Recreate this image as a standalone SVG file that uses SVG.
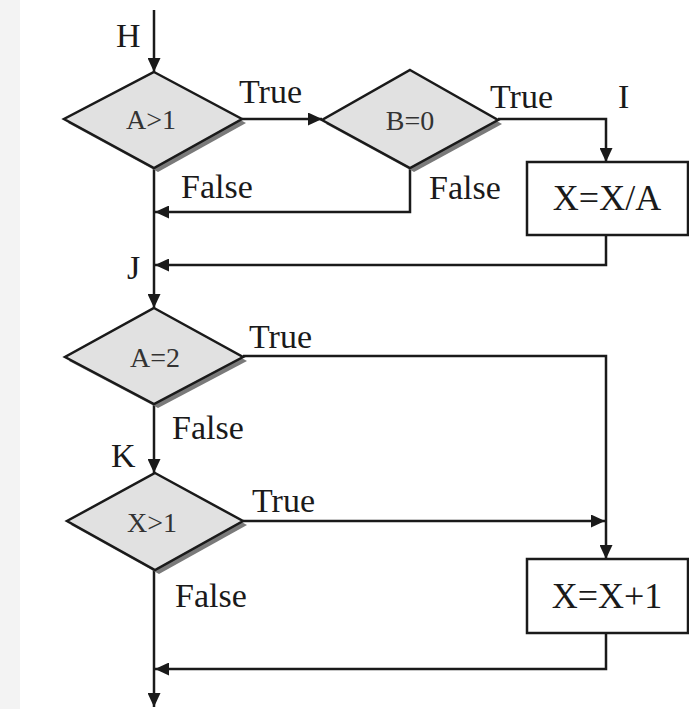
<svg xmlns="http://www.w3.org/2000/svg" width="689" height="709" viewBox="0 0 689 709">
<defs>
<marker id="arr" markerUnits="userSpaceOnUse" markerWidth="14" markerHeight="13" refX="14" refY="6.5" orient="auto">
<path d="M0,0 L14,6.5 L0,13 z" fill="#1a1a1a"/>
</marker>
</defs>
<style>
.bg{fill:#ffffff}
.strip{fill:#f3f3f3}
.dia{fill:#e1e1e1;stroke:#1a1a1a;stroke-width:2.5;stroke-linejoin:miter}
.shadow{fill:#7a7a7a}
.box{fill:#ffffff;stroke:#1a1a1a;stroke-width:2.5}
.line{fill:none;stroke:#1a1a1a;stroke-width:2.5}
.lbl{font-family:"Liberation Serif","Times New Roman",serif;font-size:34px;fill:#1a1a1a}
.dtxt{font-family:"Liberation Serif","Times New Roman",serif;font-size:28px;fill:#333333;text-anchor:middle}
.btxt{font-family:"Liberation Serif","Times New Roman",serif;font-size:36px;fill:#1a1a1a;text-anchor:middle}
</style>
<rect class="bg" x="0" y="0" width="689" height="709"/>
<rect class="strip" x="0" y="0" width="20" height="709"/>

<g id="connectors">
<line class="line" x1="154" y1="10" x2="154" y2="72" marker-end="url(#arr)"/>
<line class="line" x1="242" y1="119" x2="322" y2="119" marker-end="url(#arr)"/>
<polyline class="line" points="498,119 606,119 606,162" marker-end="url(#arr)"/>
<polyline class="line" points="410,168 410,212 155,212" marker-end="url(#arr)"/>
<polyline class="line" points="606,235 606,265 155,265" marker-end="url(#arr)"/>
<line class="line" x1="154" y1="168" x2="154" y2="308" marker-end="url(#arr)"/>
<polyline class="line" points="243,356 606,356 606,559" marker-end="url(#arr)"/>
<line class="line" x1="154" y1="404" x2="154" y2="473" marker-end="url(#arr)"/>
<line class="line" x1="243" y1="521" x2="605" y2="521" marker-end="url(#arr)"/>
<polyline class="line" points="606,633 606,669 155,669" marker-end="url(#arr)"/>
<line class="line" x1="154" y1="570" x2="154" y2="707" marker-end="url(#arr)"/>
</g>

<g id="labels">
<text class="lbl" x="116" y="47">H</text>
<text class="lbl" x="239" y="103">True</text>
<text class="lbl" x="181" y="198">False</text>
<text class="lbl" x="490" y="108">True</text>
<text class="lbl" x="618" y="108">I</text>
<text class="lbl" x="429" y="199">False</text>
<text class="lbl" x="127" y="279">J</text>
<text class="lbl" x="249" y="348">True</text>
<text class="lbl" x="172" y="439">False</text>
<text class="lbl" x="111" y="467">K</text>
<text class="lbl" x="252" y="512">True</text>
<text class="lbl" x="175" y="607">False</text>
</g>

<g id="node-a1">
<polygon class="shadow" points="158,76 246,123 158,172 68,123"/>
<polygon class="dia" points="154,72 242,119 154,168 64,119"/>
<text class="dtxt" x="151" y="129">A&gt;1</text>
</g>

<g id="node-b0">
<polygon class="shadow" points="414,74 502,124 414,172 326,124"/>
<polygon class="dia" points="410,70 498,120 410,168 322,120"/>
<text class="dtxt" x="410" y="130">B=0</text>
</g>

<g id="node-xa">
<rect class="box" x="527" y="162" width="161" height="73"/>
<text class="btxt" x="607" y="210">X=X/A</text>
</g>

<g id="node-a2">
<polygon class="shadow" points="158,312 247,361 158,408 69,361"/>
<polygon class="dia" points="154,308 243,357 154,404 65,357"/>
<text class="dtxt" x="155" y="367">A=2</text>
</g>

<g id="node-x1">
<polygon class="shadow" points="159,477 247,525 159,574 71,525"/>
<polygon class="dia" points="155,473 243,521 155,570 67,521"/>
<text class="dtxt" x="152" y="532">X&gt;1</text>
</g>

<g id="node-xp1">
<rect class="box" x="527" y="559" width="161" height="74"/>
<text class="btxt" x="607" y="608">X=X+1</text>
</g>
</svg>
